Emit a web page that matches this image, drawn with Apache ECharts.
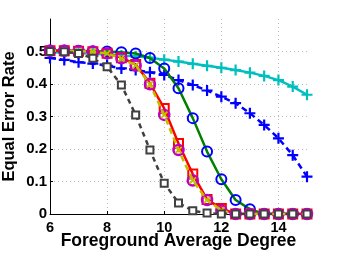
<!DOCTYPE html>
<html><head><meta charset="utf-8">
<script src="https://cdn.jsdelivr.net/npm/echarts@6/dist/echarts.min.js"></script>
<style>html,body{margin:0;padding:0;background:#fff}#c{width:338px;height:254px}</style>
</head><body><div id="c"></div>
<script>
var degrees = [6,6.5,7,7.5,8,8.5,9,9.5,10,10.5,11,11.5,12,12.5,13,13.5,14,14.5,15];
var cyanVals  = [0.498,0.497,0.495,0.493,0.491,0.488,0.485,0.481,0.475,0.469,0.462,0.456,0.45,0.443,0.435,0.425,0.412,0.392,0.367];
var blueVals  = [0.48,0.474,0.467,0.463,0.457,0.448,0.443,0.436,0.428,0.412,0.397,0.38,0.361,0.341,0.31,0.274,0.233,0.181,0.115];
var greenVals = [0.503,0.503,0.502,0.501,0.5,0.498,0.494,0.48,0.448,0.387,0.295,0.192,0.107,0.043,0.015,0,0,0,0];
var redVals   = [0.502,0.502,0.501,0.499,0.495,0.481,0.46,0.402,0.325,0.217,0.123,0.045,0.017,0,0,0,0,0,0];
var magVals   = [0.502,0.502,0.501,0.499,0.494,0.479,0.457,0.399,0.305,0.197,0.103,0.043,0.011,0,0,0,0,0,0];
var grayVals  = [0.5,0.499,0.494,0.479,0.453,0.397,0.305,0.197,0.095,0.034,0.01,0.003,0,0,0,0,0,0,0];
var xTicks = [6,8,10,12,14];
var yTicks = [0,0.1,0.2,0.3,0.4,0.5];

function pairs(v){return degrees.map(function(d,i){return [d,v[i]];});}
var plus = 'path://M4,0H6V4H10V6H6V10H4V6H0V4H4Z';
var chart = echarts.init(document.getElementById('c'));
var font = 'Liberation Sans';
chart.setOption({
  animation:false,
  grid:{left:50,right:31,top:19,bottom:40,containLabel:false,outerBoundsMode:'none'},
  xAxis:{type:'value',min:6,max:15,interval:2,
    name:'Foreground Average Degree',nameLocation:'middle',nameGap:18,nameMoveOverlap:false,
    nameTextStyle:{fontFamily:font,fontWeight:'bold',fontSize:17.5,color:'#000',verticalAlign:'top'},
    axisLine:{show:true,lineStyle:{color:'#000',width:1}},
    axisTick:{show:true,inside:true,length:3,lineStyle:{color:'#000'}},
    axisLabel:{fontFamily:font,fontWeight:'bold',fontSize:14.5,color:'#000',margin:6,showMaxLabel:false,
      formatter:function(v){return xTicks.indexOf(v)>=0?String(v):'';}},
    splitLine:{show:true,showMinLine:false,showMaxLine:false,lineStyle:{color:'#bbb',type:[1,3],width:1}}},
  yAxis:{type:'value',min:0,max:0.6,interval:0.1,
    name:'Equal Error Rate',nameLocation:'middle',nameGap:32,nameMoveOverlap:false,
    nameTextStyle:{fontFamily:font,fontWeight:'bold',fontSize:16.5,color:'#000'},
    axisLine:{show:true,lineStyle:{color:'#000',width:1}},
    axisTick:{show:true,inside:true,length:3,lineStyle:{color:'#000'}},
    axisLabel:{fontFamily:font,fontWeight:'bold',fontSize:15,color:'#000',margin:3,showMaxLabel:false,
      formatter:function(v){var r=Math.round(v*10)/10;return yTicks.indexOf(r)>=0?(r===0?'0':String(r)):'';}},
    splitLine:{show:true,showMinLine:false,showMaxLine:false,lineStyle:{color:'#bbb',type:[1,3],width:1}}},
  series:[
    {type:'line',data:pairs(cyanVals),lineStyle:{color:'#00BFBF',width:2.5},symbol:plus,symbolSize:11,
      itemStyle:{color:'#00BFBF'},showAllSymbol:true,z:2},
    {type:'line',data:pairs(blueVals),lineStyle:{color:'#0000FF',width:2.5,type:[6,4]},symbol:plus,symbolSize:11,
      itemStyle:{color:'#0000FF'},showAllSymbol:true,z:3},
    {type:'line',data:pairs(greenVals),lineStyle:{color:'#008000',width:2.5},symbol:'circle',symbolSize:10,
      itemStyle:{color:'rgba(0,0,0,0)',borderColor:'#0000FF',borderWidth:2},showAllSymbol:true,z:4},
    {type:'line',data:pairs(redVals),lineStyle:{color:'#FF0000',width:2.5},symbol:'rect',symbolSize:9,
      itemStyle:{color:'rgba(0,0,0,0)',borderColor:'#FF0000',borderWidth:2},showAllSymbol:true,z:5},
    {type:'line',data:pairs(magVals),lineStyle:{width:0,opacity:0},symbol:'circle',symbolSize:10,
      itemStyle:{color:'rgba(0,0,0,0)',borderColor:'#BF00BF',borderWidth:2.5},showAllSymbol:true,z:6},
    {type:'line',data:pairs(magVals),lineStyle:{color:'#BFBF00',width:2.5,type:[6,4]},symbol:plus,symbolRotate:45,symbolSize:9,
      itemStyle:{color:'#BFBF00'},showAllSymbol:true,z:7},
    {type:'line',data:pairs(grayVals),lineStyle:{color:'#404040',width:2.5,type:[5,4]},symbol:'rect',symbolSize:7,
      itemStyle:{color:'#fff',borderColor:'#404040',borderWidth:2},showAllSymbol:true,z:8}
  ]
});
</script></body></html>
